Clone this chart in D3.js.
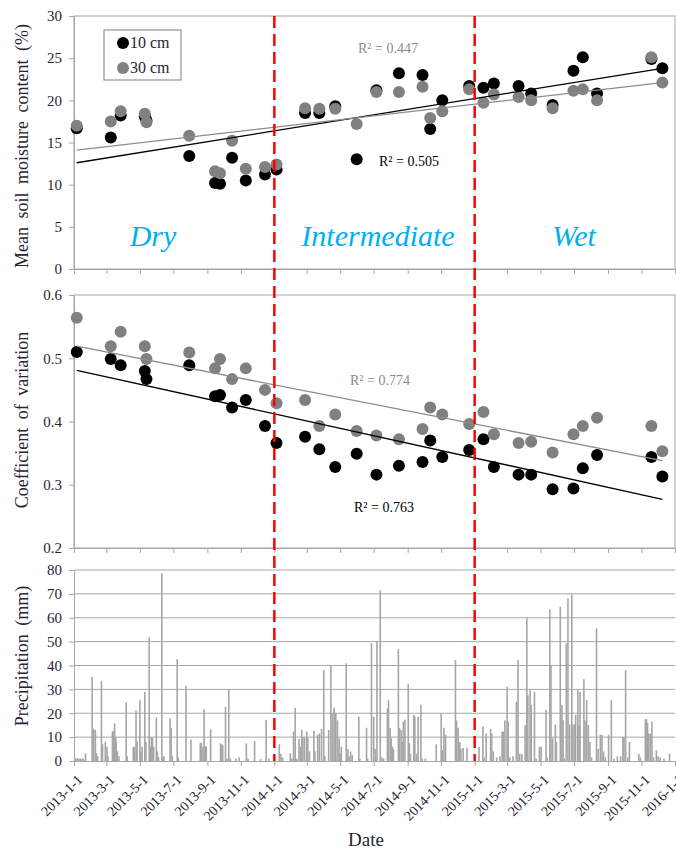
<!DOCTYPE html>
<html>
<head>
<meta charset="utf-8">
<script src="https://cdn.jsdelivr.net/npm/d3@7"></script>
<style>
  body { margin: 0; background: #fff; }
  svg text { font-family: "Liberation Serif", "DejaVu Serif", serif; }
</style>
</head>
<body>
<script>
'use strict';

// sampling dates for soil moisture / CV
const sampleDates = ['2013-01-06', '2013-03-09', '2013-03-27', '2013-05-10', '2013-05-13', '2013-07-30',
  '2013-09-15', '2013-09-24', '2013-10-16', '2013-11-10', '2013-12-15', '2014-01-05', '2014-02-26',
  '2014-03-24', '2014-04-22', '2014-05-31', '2014-07-06', '2014-08-16', '2014-09-28', '2014-10-12',
  '2014-11-03', '2014-12-22', '2015-01-17', '2015-02-05', '2015-03-22', '2015-04-14', '2015-05-23',
  '2015-06-30', '2015-07-17', '2015-08-12', '2015-11-19', '2015-12-09'];

const moisture10 = [16.7, 15.6, 18.2, 18.1, 17.6, 13.4, 10.2, 10.1, 13.2, 10.5, 11.2, 11.8, 18.5,
  18.5, 19.3, 13.0, 21.2, 23.2, 23.0, 16.6, 20.0, 21.7, 21.5, 22.0, 21.7, 20.8, 19.45,
  23.5, 25.1, 20.8, 24.9, 23.8];
const moisture30 = [17.0, 17.5, 18.7, 18.4, 17.4, 15.8, 11.6, 11.35, 15.2, 11.9, 12.1, 12.4, 19.05,
  19.0, 19.0, 17.2, 21.0, 21.0, 21.6, 17.9, 18.7, 21.3, 19.7, 20.7, 20.4, 20.0, 19.05,
  21.15, 21.3, 20.0, 25.1, 22.1];

const cv10 = [0.510, 0.499, 0.489, 0.480, 0.467, 0.489, 0.440, 0.442, 0.422, 0.434, 0.393, 0.366, 0.376,
  0.356, 0.328, 0.349, 0.316, 0.330, 0.336, 0.370, 0.344, 0.355, 0.372, 0.328, 0.316, 0.316, 0.293,
  0.294, 0.326, 0.347, 0.344, 0.313];
const cv30 = [0.564, 0.519, 0.542, 0.519, 0.499, 0.509, 0.484, 0.499, 0.467, 0.484, 0.450, 0.429, 0.434,
  0.393, 0.411, 0.385, 0.378, 0.372, 0.388, 0.422, 0.411, 0.396, 0.415, 0.380, 0.366, 0.368, 0.351,
  0.380, 0.393, 0.406, 0.393, 0.353];

// linear trend end points (first / last sampling date)
const trendDates = ['2013-01-06', '2015-12-09'];
const moistureTrend10 = [12.6, 23.8];
const moistureTrend30 = [14.1, 22.1];
const cvTrend10 = [0.481, 0.277];
const cvTrend30 = [0.519, 0.338];

const r2Labels = ['R² = 0.505', 'R² = 0.447', 'R² = 0.763', 'R² = 0.774'];
const seriesNames = ['10 cm', '30 cm'];
const periodNames = ['Dry', 'Intermediate', 'Wet'];
const periodBreaks = ['2014-01-01', '2015-01-01'];

// daily precipitation (days with rain only)
const precipDates = ['2013-01-04', '2013-01-07', '2013-01-10', '2013-01-13', '2013-01-16', '2013-01-18',
  '2013-01-22', '2013-02-03', '2013-02-06', '2013-02-09', '2013-02-11', '2013-02-13', '2013-02-20',
  '2013-02-22', '2013-02-27', '2013-03-02', '2013-03-04', '2013-03-12', '2013-03-14', '2013-03-16',
  '2013-03-18', '2013-03-19', '2013-03-21', '2013-03-24', '2013-04-06', '2013-04-08', '2013-04-19',
  '2013-04-21', '2013-04-24', '2013-04-26', '2013-05-01', '2013-05-03', '2013-05-05', '2013-05-10',
  '2013-05-12', '2013-05-18', '2013-05-20', '2013-05-22', '2013-05-24', '2013-05-26', '2013-05-31',
  '2013-06-02', '2013-06-04', '2013-06-10', '2013-06-12', '2013-06-14', '2013-06-25', '2013-06-27',
  '2013-06-29', '2013-07-08', '2013-07-10', '2013-07-24', '2013-08-02', '2013-08-19', '2013-08-21',
  '2013-08-24', '2013-08-26', '2013-08-28', '2013-08-30', '2013-09-07', '2013-09-25', '2013-09-27',
  '2013-09-29', '2013-10-04', '2013-10-07', '2013-10-10', '2013-10-13', '2013-10-23', '2013-10-29',
  '2013-11-11', '2013-11-14', '2013-11-26', '2013-12-07', '2013-12-17', '2013-12-22',
  '2014-01-10', '2014-01-13', '2014-01-16', '2014-01-30', '2014-02-02', '2014-02-05', '2014-02-08',
  '2014-02-11', '2014-02-15', '2014-02-17', '2014-02-20', '2014-02-22', '2014-02-25', '2014-03-01',
  '2014-03-03', '2014-03-06', '2014-03-14', '2014-03-16', '2014-03-21', '2014-03-24', '2014-03-28',
  '2014-04-01', '2014-04-03', '2014-04-10', '2014-04-14', '2014-04-17', '2014-04-20', '2014-04-23',
  '2014-04-26', '2014-04-29', '2014-05-01', '2014-05-03', '2014-05-12', '2014-05-15', '2014-05-17',
  '2014-05-20', '2014-05-23', '2014-06-04', '2014-06-06', '2014-06-18', '2014-06-20', '2014-06-27',
  '2014-07-01', '2014-07-04', '2014-07-07', '2014-07-13', '2014-07-16', '2014-07-19', '2014-07-26',
  '2014-07-28', '2014-07-31', '2014-08-02', '2014-08-04', '2014-08-06', '2014-08-15', '2014-08-17',
  '2014-08-20', '2014-08-22', '2014-08-24', '2014-08-27', '2014-09-02', '2014-09-04', '2014-09-06',
  '2014-09-12', '2014-09-14', '2014-09-17', '2014-09-20', '2014-09-25', '2014-09-27', '2014-10-03',
  '2014-10-23', '2014-11-01', '2014-11-03', '2014-11-06', '2014-11-09', '2014-11-27', '2014-11-29',
  '2014-12-02', '2014-12-05', '2014-12-07', '2014-12-11', '2014-12-18',
  '2015-01-09', '2015-01-16', '2015-01-18', '2015-01-22', '2015-01-30', '2015-02-01', '2015-02-04',
  '2015-02-10', '2015-02-16', '2015-02-20', '2015-02-22', '2015-02-25', '2015-03-01', '2015-03-03',
  '2015-03-06', '2015-03-12', '2015-03-18', '2015-03-21', '2015-03-24', '2015-03-28', '2015-04-03',
  '2015-04-06', '2015-04-08', '2015-04-12', '2015-04-14', '2015-04-20', '2015-04-23', '2015-04-29',
  '2015-05-02', '2015-05-11', '2015-05-13', '2015-05-18', '2015-05-20', '2015-05-23', '2015-05-28',
  '2015-05-30', '2015-06-06', '2015-06-09', '2015-06-11', '2015-06-13', '2015-06-17', '2015-06-20',
  '2015-06-23', '2015-06-27', '2015-06-29', '2015-07-02', '2015-07-04', '2015-07-08', '2015-07-10',
  '2015-07-12', '2015-07-19', '2015-07-21', '2015-07-24', '2015-07-27', '2015-07-30', '2015-08-02',
  '2015-08-11', '2015-08-14', '2015-08-18', '2015-08-21', '2015-08-24', '2015-08-27', '2015-09-02',
  '2015-09-07', '2015-09-12', '2015-09-18', '2015-09-24', '2015-09-28', '2015-09-30', '2015-10-03',
  '2015-10-07', '2015-10-10', '2015-10-27', '2015-10-30', '2015-11-08', '2015-11-10', '2015-11-12',
  '2015-11-14', '2015-11-17', '2015-11-20', '2015-11-23', '2015-11-28', '2015-12-01', '2015-12-05',
  '2015-12-12', '2015-12-22'];
const precipValues = [1, 1.2, 1, 1, 1, 1,
  3.2, 35.3, 13.4, 13, 3.2, 2, 33.5,
  7, 8.1, 6, 2, 12.3, 12.7, 15.8,
  10, 8.1, 4, 2, 24.6, 2, 5.8,
  6, 21.2, 8, 25.5, 4, 6, 29,
  8, 51.7, 6, 10, 9.8, 6, 18.2,
  4, 1.5, 78.6, 1.5, 2, 17.9, 13.7,
  2, 42.7, 1.5, 31.5, 9, 7.4, 7.7,
  6, 21.6, 6.2, 6, 13.2, 7.4, 7,
  6.5, 22.7, 1, 29.7, 1, 1, 1.5,
  7.4, 1, 8.4, 0.8, 17.2, 1,
  7, 3, 1.5, 3.2, 1, 12.3, 22.3,
  1, 9.2, 6, 13, 10, 9.8, 12.3,
  9.5, 4, 12.7, 4, 11, 11.5, 13.4,
  38.1, 2, 13, 40.2, 20, 22.4, 20,
  17, 9.5, 3, 6, 40.9, 5, 2,
  4, 2.5, 18.6, 1, 13.9, 1, 49.3,
  18.6, 5, 49.9, 71.4, 1.5, 1, 22,
  25.5, 13.9, 9.5, 6, 5, 46.9, 13.9,
  13, 8, 16.5, 17.3, 32.2, 7.5, 3,
  19.3, 18.6, 3, 18.6, 23.5, 1, 1,
  7, 20, 4.5, 13.9, 11, 42.3, 17,
  13.9, 8, 5, 5.5, 5.5,
  6, 14.5, 1.5, 11.5, 13.4, 11.5, 4,
  1.5, 2, 12.3, 12.3, 17, 31.1, 16.5,
  1.5, 2, 24.8, 42.3, 3, 3, 15,
  59.8, 27.6, 29.7, 23.5, 29, 1, 6,
  6, 21.4, 1.5, 63.5, 40.2, 9.5, 15.3,
  8, 64.6, 23.5, 17, 1, 49.3, 68.1,
  15.3, 69.8, 15.3, 15.3, 19.3, 29.7, 15,
  29, 34.3, 17, 25.5, 15, 8, 1.5,
  55.6, 5, 11, 11, 4, 1.5, 11,
  25.5, 1, 2, 2, 10, 10, 38.1,
  1.5, 8, 3, 1.5, 17.5, 17.5, 16,
  11.5, 11.5, 16.5, 1.5, 4.5, 2,
  1.5, 1, 3];

const moistureTicks = [0, 5, 10, 15, 20, 25, 30];
const cvTicks = [0.2, 0.3, 0.4, 0.5, 0.6];
const precipTicks = [0, 10, 20, 30, 40, 50, 60, 70, 80];

const parseDate = d3.timeParse('%Y-%m-%d');
const serif = '"Liberation Serif", "DejaVu Serif", serif';
const axisGrey = '#a6a6a6';
const pointGrey = '#808080';
const labelColor = '#262633';

let svg = d3.select('body').append('svg')
  .attr('width', 676)
  .attr('height', 850)
  .attr('font-family', serif);

// shared time axis
let xScale = d3.scaleTime()
  .domain([parseDate('2013-01-01'), parseDate('2016-01-01')])
  .range([74, 675]);
let xTicks = d3.timeMonth.range(parseDate('2013-01-01'), parseDate('2016-01-02'), 2);
let tickFmt = d => d.getFullYear() + '-' + (d.getMonth() + 1) + '-' + d.getDate();

let yMoist = d3.scaleLinear().domain([0, 30]).range([269, 16]);
let yCv = d3.scaleLinear().domain([0.2, 0.6]).range([548, 295]);
let yPrecip = d3.scaleLinear().domain([0, 80]).range([761, 570]);

// draw a y axis + x ticks (date labels only on the bottom panel)
function drawFrame(yScale, ticks, fmt, boxed, showDates) {
  let yAxis = d3.axisLeft(yScale).tickValues(ticks).tickSize(5).tickSizeOuter(0).tickFormat(fmt);
  let g = svg.append('g')
    .attr('transform', 'translate(74,0)')
    .call(yAxis)
    .attr('font-family', serif);
  g.select('.domain').attr('stroke', axisGrey);
  g.selectAll('.tick line').attr('stroke', axisGrey);
  g.selectAll('.tick text')
    .attr('x', -12)
    .attr('fill', labelColor)
    .style('font-size', '15px');

  let xAxis = d3.axisBottom(xScale).tickValues(xTicks).tickSize(5).tickSizeOuter(0)
    .tickFormat(showDates ? tickFmt : '');
  let gx = svg.append('g')
    .attr('transform', 'translate(0,' + yScale.range()[0] + ')')
    .call(xAxis)
    .attr('font-family', serif);
  gx.select('.domain').attr('stroke', axisGrey);
  gx.selectAll('.tick line').attr('stroke', axisGrey);
  if (showDates) {
    gx.selectAll('.tick text')
      .attr('fill', labelColor)
      .attr('text-anchor', 'end')
      .attr('dy', 0)
      .attr('transform', 'translate(3,14) rotate(-45)')
      .style('font-size', '14px');
  }

  if (boxed) {
    svg.append('rect')
      .attr('x', xScale.range()[0])
      .attr('y', yScale.range()[1])
      .attr('width', xScale.range()[1] - xScale.range()[0])
      .attr('height', yScale.range()[0] - yScale.range()[1])
      .attr('fill', 'none')
      .attr('stroke', axisGrey);
  }
}

function drawPoints(yScale, values, color) {
  svg.append('g').selectAll('circle')
    .data(values)
    .enter()
    .append('circle')
    .attr('cx', (d, i) => xScale(parseDate(sampleDates[i])))
    .attr('cy', d => yScale(d))
    .attr('r', 6)
    .attr('fill', color);
}

function drawTrend(yScale, values, color, width) {
  svg.append('line')
    .attr('x1', xScale(parseDate(trendDates[0])))
    .attr('x2', xScale(parseDate(trendDates[1])))
    .attr('y1', yScale(values[0]))
    .attr('y2', yScale(values[1]))
    .attr('stroke', color)
    .attr('stroke-width', width);
}

function yTitle(text, cy) {
  svg.append('text')
    .attr('transform', 'translate(28,' + cy + ') rotate(-90)')
    .attr('text-anchor', 'middle')
    .attr('fill', labelColor)
    .style('font-size', '18px')
    .style('word-spacing', '4px')
    .text(text);
}

// ---- panel 1: soil moisture
drawFrame(yMoist, moistureTicks, d3.format('d'), true, false);
drawPoints(yMoist, moisture10, '#000');
drawPoints(yMoist, moisture30, pointGrey);
drawTrend(yMoist, moistureTrend10, '#000', 1.3);
drawTrend(yMoist, moistureTrend30, '#8c8c8c', 1.3);

// period names
let periodX = [153, 378, 574];
periodNames.forEach((p, i) => {
  svg.append('text')
    .attr('x', periodX[i])
    .attr('y', 246)
    .attr('text-anchor', 'middle')
    .attr('fill', '#00b0f0')
    .style('font-size', '30px')
    .style('font-style', 'italic')
    .text(p);
});

// legend
svg.append('rect')
  .attr('x', 104).attr('y', 30)
  .attr('width', 77).attr('height', 50)
  .attr('fill', '#fff')
  .attr('stroke', '#7f7f7f');
[['#000', 43], [pointGrey, 68]].forEach((l, i) => {
  svg.append('circle').attr('cx', 123).attr('cy', l[1]).attr('r', 6).attr('fill', l[0]);
  svg.append('text')
    .attr('x', 130).attr('y', l[1] + 5)
    .attr('fill', labelColor)
    .style('font-size', '16px')
    .text(seriesNames[i]);
});

svg.append('text').attr('x', 379).attr('y', 166).attr('fill', '#000')
  .style('font-size', '14px').text(r2Labels[0]);
svg.append('text').attr('x', 358).attr('y', 53).attr('fill', '#8c8c8c')
  .style('font-size', '14px').text(r2Labels[1]);

yTitle('Mean soil moisture content (%)', 146);

// ---- panel 2: coefficient of variation
drawFrame(yCv, cvTicks, d3.format('.1f'), true, false);
drawPoints(yCv, cv10, '#000');
drawPoints(yCv, cv30, pointGrey);
drawTrend(yCv, cvTrend10, '#000', 1.3);
drawTrend(yCv, cvTrend30, '#8c8c8c', 1.3);

svg.append('text').attr('x', 354).attr('y', 512).attr('fill', '#000')
  .style('font-size', '14px').text(r2Labels[2]);
svg.append('text').attr('x', 350).attr('y', 385).attr('fill', '#8c8c8c')
  .style('font-size', '14px').text(r2Labels[3]);

yTitle('Coefficient of variation', 420);

// ---- panel 3: precipitation
svg.append('g').selectAll('line')
  .data(precipTicks.slice(1))
  .enter()
  .append('line')
  .attr('x1', 74).attr('x2', 675)
  .attr('y1', d => yPrecip(d)).attr('y2', d => yPrecip(d))
  .attr('stroke', axisGrey);

svg.append('g').selectAll('rect')
  .data(precipValues)
  .enter()
  .append('rect')
  .attr('x', (d, i) => xScale(parseDate(precipDates[i])) - 0.8)
  .attr('y', d => yPrecip(d))
  .attr('width', 1.6)
  .attr('height', d => yPrecip(0) - yPrecip(d))
  .attr('fill', axisGrey);

drawFrame(yPrecip, precipTicks, d3.format('d'), false, true);
yTitle('Precipitation (mm)', 656);

svg.append('text')
  .attr('x', 366).attr('y', 846)
  .attr('text-anchor', 'middle')
  .attr('fill', labelColor)
  .style('font-size', '19px')
  .text('Date');

// period dividers
periodBreaks.forEach(b => {
  svg.append('line')
    .attr('x1', xScale(parseDate(b))).attr('x2', xScale(parseDate(b)))
    .attr('y1', yMoist(30)).attr('y2', yPrecip(0))
    .attr('stroke', '#ff0000')
    .attr('stroke-width', 2.5)
    .attr('stroke-dasharray', '12,6');
});
</script>
</body>
</html>
